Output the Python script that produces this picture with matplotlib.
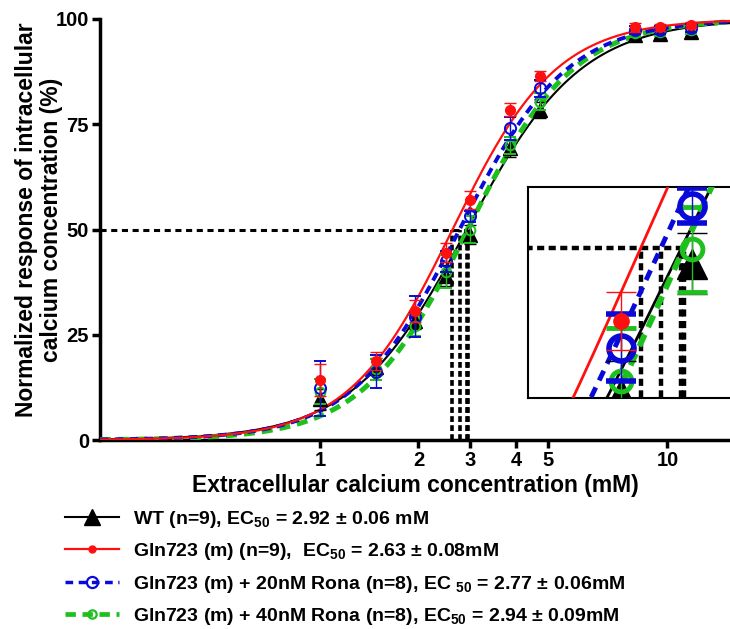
import numpy as np
import matplotlib
matplotlib.use("Agg")
import matplotlib.pyplot as plt
from matplotlib.lines import Line2D
from matplotlib.ticker import NullLocator

plt.rcParams['font.family'] = ['Liberation Sans', 'DejaVu Sans']
plt.rcParams['font.weight'] = 'bold'
plt.rcParams['mathtext.fontset'] = 'custom'
plt.rcParams['mathtext.rm'] = 'Liberation Sans:bold'
plt.rcParams['mathtext.it'] = 'Liberation Sans:bold'
plt.rcParams['mathtext.bf'] = 'Liberation Sans:bold'

# calcium concentrations (mM)
conc = [1, 1.5, 2, 2.5, 3, 4, 5, 10, 12, 15]

# mean responses (%) and SEM
wt_mean = [9.7, 17.4, 28.3, 39.0, 48.8, 69.3, 78.4, 96.2, 96.4, 97.0]
wt_err = [2.5, 2.0, 2.0, 2.5, 2.3, 2.0, 2.0, 1.0, 1.0, 1.0]
gln_mean = [14.2, 18.8, 30.6, 44.5, 57.0, 78.5, 86.5, 98.0, 98.0, 98.6]
gln_err = [3.8, 2.2, 2.6, 2.2, 2.2, 1.5, 1.2, 1.0, 0.8, 0.8]
rona20_mean = [12.3, 16.2, 29.3, 42.5, 53.2, 74.0, 83.5, 97.4, 97.4, 97.8]
rona20_err = [6.5, 3.9, 4.8, 2.5, 1.3, 2.7, 2.0, 1.0, 1.0, 1.0]
rona40_mean = [11.5, 16.8, 27.1, 40.0, 49.9, 70.0, 80.4, 96.7, 96.9, 97.4]
rona40_err = [3.0, 2.5, 2.5, 4.0, 3.2, 2.0, 2.0, 1.0, 1.0, 1.0]

# fitted Hill parameters
ec50 = [2.92, 2.63, 2.77, 2.94]
hill_n = [2.4, 2.64, 2.55, 2.6]

labels = [
    'WT (n=9), EC$_{50}$ = 2.92 \u00b1 0.06 mM',
    'Gln723 (m) (n=9),  EC$_{50}$ = 2.63 \u00b1 0.08mM',
    'Gln723 (m) + 20nM Rona (n=8), EC $_{50}$ = 2.77 \u00b1 0.06mM',
    'Gln723 (m) + 40nM Rona (n=8), EC$_{50}$ = 2.94 \u00b1 0.09mM',
]

# x tick labels as they are placed on the original axis
xtick_vals = [1, 2.05, 3, 4.19, 5.27, 12.66]
xtick_labels = ['1', '2', '3', '4', '5', '10']


def hill(x, ec, n):
    return 100.0 / (1.0 + (ec / x) ** n)


means = [wt_mean, gln_mean, rona20_mean, rona40_mean]
errs = [wt_err, gln_err, rona20_err, rona40_err]
colors = ['black', '#ff1010', '#0a0ad8', '#1ec01e']
markers = ['^', 'o', 'o', 'o']
mfc = ['black', '#ff1010', 'none', 'none']
ms_main = [10, 7, 8, 7]
mew_main = [1, 1, 1.4, 1.4]
ms_in = [22, 11, 18, 15]
mew_in = [1, 1, 4, 3.5]
line_ls = ['-', '-', (0, (2.2, 1.6)), (0, (2.2, 1.4))]
lw_main = [1.5, 1.6, 2.8, 3.6]
lw_in = [2, 2, 3.5, 4.2]
# drawing order: black, green, blue, red
order = [0, 3, 2, 1]

fig = plt.figure(figsize=(7.3, 6.29), dpi=100)
ax = fig.add_axes([100 / 730, 1 - 440 / 629, 630 / 730, 421 / 629])

xfit = np.logspace(np.log10(0.2), np.log10(20), 500)
for k, i in enumerate(order):
    ax.plot(xfit, hill(xfit, ec50[i], hill_n[i]), color=colors[i],
            ls=line_ls[i], lw=lw_main[i], zorder=2 + k)
for k, i in enumerate(order):
    ax.errorbar(conc, means[i], yerr=errs[i], fmt=markers[i], color=colors[i],
                mfc=mfc[i], mec=colors[i], ms=ms_main[i], mew=mew_main[i],
                elinewidth=1, capsize=4, capthick=1, zorder=6 + k)

# EC50 guide lines
ax.plot([0.2, max(ec50)], [50, 50], color='black', ls=(0, (2, 1.5)), lw=2.2, zorder=1)
for e in ec50:
    ax.plot([e, e], [0, 50], color='black', ls=(0, (1.6, 0.9)), lw=2.6, zorder=1)

ax.set_xscale('log')
ax.set_xlim(0.2, 20)
ax.set_ylim(0, 100)
ax.xaxis.set_minor_locator(NullLocator())
ax.set_xticks(xtick_vals)
ax.set_xticklabels(xtick_labels)
ax.set_yticks([0, 25, 50, 75, 100])
for s in ['top', 'right']:
    ax.spines[s].set_visible(False)
for s in ['left', 'bottom']:
    ax.spines[s].set_linewidth(2.5)
ax.tick_params(width=2.5, length=6, labelsize=14.5, pad=2)
for t in ax.get_xticklabels() + ax.get_yticklabels():
    t.set_fontweight('bold')

ax.set_xlabel('Extracellular calcium concentration (mM)', fontsize=16.5,
              fontweight='bold', labelpad=3)
fig.text(39 / 730, 1 - 220 / 629,
         'Normalized response of intracellular\ncalcium concentration (%)',
         rotation=90, ha='center', va='center', fontsize=16.5,
         fontweight='bold', linespacing=1.15, multialignment='center')

# zoomed inset around EC50
axin = fig.add_axes([528 / 730, 1 - 398 / 629, 1 - 528 / 730, 211 / 629])
xin = np.logspace(np.log10(1.9), np.log10(3.5), 300)
for k, i in enumerate(order):
    axin.plot(xin, hill(xin, ec50[i], hill_n[i]), color=colors[i],
              ls=line_ls[i], lw=lw_in[i], zorder=2 + k)
for k, i in enumerate(order):
    axin.errorbar(conc, means[i], yerr=errs[i], fmt=markers[i], color=colors[i],
                  mfc=mfc[i], mec=colors[i], ms=ms_in[i], mew=mew_in[i],
                  elinewidth=1, capsize=11, capthick=1, zorder=6 + k)
axin.plot([1.9, max(ec50)], [50, 50], color='black', ls=(0, (1.6, 1.0)), lw=3.2, zorder=1)
for e in ec50:
    axin.plot([e, e], [30, 50], color='black', ls=(0, (1.6, 1.0)), lw=3.2, zorder=1)
axin.set_xscale('log')
axin.set_xlim(1.968, 3.31)
axin.set_ylim(38.7, 54.6)
axin.set_xticks([])
axin.set_yticks([])
axin.xaxis.set_minor_locator(NullLocator())
axin.spines['right'].set_visible(False)
for s in ['left', 'top', 'bottom']:
    axin.spines[s].set_linewidth(1.5)

# legend with proxy handles
handles = [
    Line2D([], [], color='black', lw=1.5, marker='^', ms=11),
    Line2D([], [], color='#ff1010', lw=1.6, marker='o', ms=5),
    Line2D([], [], color='#0a0ad8', lw=2.5, ls=(0, (2.2, 1.6)), marker='o',
           ms=8, mfc='none', mew=1.6),
    Line2D([], [], color='#1ec01e', lw=3.4, ls=(0, (2.2, 1.4)), marker='o',
           ms=6, mfc='none', mew=1.6),
]
fig.legend(handles, labels, loc='upper left', bbox_to_anchor=(65 / 730, 1 - 509 / 629),
           frameon=False, handlelength=2.8, handletextpad=0.7,
           labelspacing=0.58, borderpad=0, borderaxespad=0,
           prop={'weight': 'bold', 'size': 14})

fig.savefig('out.png', dpi=100)
